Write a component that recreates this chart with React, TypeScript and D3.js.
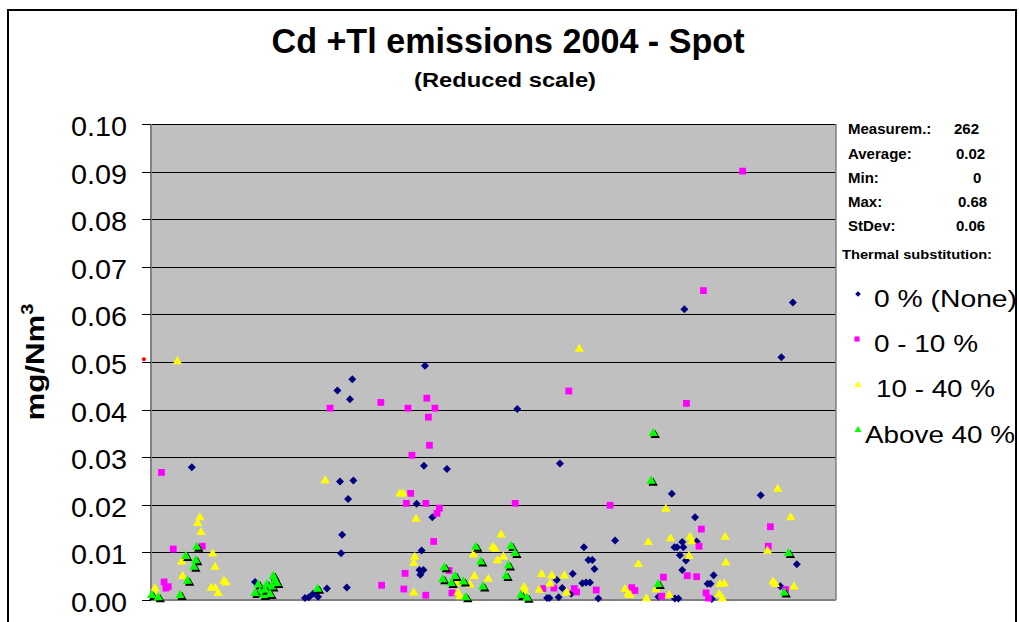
import React from 'react';
import * as d3 from 'd3';

// [measurement index, mg/Nm3]
const noneSubst: [number, number][] = [
  [15.6, 0.0279], [39.8, 0.0038], [58.9, 0.0004], [60.4, 0.0006], [62.0, 0.0013], [63.9, 0.0007],
  [67.3, 0.0024], [71.3, 0.044], [77.0, 0.0464], [76.1, 0.0422], [72.3, 0.0249], [77.4, 0.0251],
  [75.4, 0.0212], [73.1, 0.0137], [72.7, 0.0098], [74.9, 0.0026], [104.8, 0.0492], [104.4, 0.0282],
  [113.2, 0.0275], [101.6, 0.0202], [107.6, 0.0174], [103.5, 0.0104], [102.7, 0.0063], [104.2, 0.0063],
  [103.0, 0.0053], [140.1, 0.0401], [156.4, 0.0287], [177.5, 0.0125], [165.6, 0.0111], [167.3, 0.0084],
  [168.8, 0.0084], [169.6, 0.0065], [161.3, 0.0055], [155.2, 0.0042], [165.0, 0.0035], [166.4, 0.0037],
  [167.9, 0.0037], [157.3, 0.0025], [160.7, 0.0013], [151.5, 0.0004], [152.4, 0.0004], [155.9, 0.0006],
  [171.1, 0.0003], [204.0, 0.0611], [245.5, 0.0625], [241.1, 0.051], [199.2, 0.0223], [233.2, 0.022],
  [208.1, 0.0174], [203.2, 0.0122], [208.7, 0.0123], [200.2, 0.0111], [201.2, 0.0111], [203.6, 0.0111],
  [202.3, 0.0094], [204.6, 0.0083], [203.2, 0.0063], [215.2, 0.0052], [212.9, 0.0034], [214.0, 0.0034],
  [247.0, 0.0075], [240.7, 0.0029], [200.4, 0.0003], [201.7, 0.0003], [214.5, 0.0002], [194.1, 0.0007],
];

const lowSubst: [number, number][] = [
  [4.0, 0.0268], [8.5, 0.0107], [19.6, 0.0113], [5.0, 0.0038], [6.6, 0.0028], [5.7, 0.0025],
  [68.5, 0.0403], [87.9, 0.0415], [98.3, 0.0403], [105.5, 0.0424], [108.6, 0.0403], [106.1, 0.0384],
  [106.5, 0.0325], [99.8, 0.0304], [99.3, 0.0224], [97.7, 0.0203], [105.1, 0.0203], [110.3, 0.0193],
  [109.4, 0.0182], [108.1, 0.0123], [97.2, 0.0056], [88.2, 0.0031], [96.7, 0.0023], [105.1, 0.001],
  [114.0, 0.0062], [115.1, 0.0015], [159.8, 0.0439], [139.3, 0.0203], [175.6, 0.0199], [149.9, 0.0024],
  [154.1, 0.0025], [161.9, 0.0024], [162.8, 0.0017], [170.3, 0.0021], [183.9, 0.0026], [185.1, 0.002],
  [196.0, 0.0048], [195.3, 0.0008], [226.3, 0.0901], [211.3, 0.065], [204.8, 0.0413], [210.5, 0.0149],
  [236.9, 0.0154], [209.6, 0.0113], [236.1, 0.0113], [205.1, 0.0051], [208.7, 0.0049], [242.7, 0.0022],
  [212.3, 0.0015], [213.2, 0.0004],
];

const midSubst: [number, number][] = [
  [10.1, 0.0501], [18.7, 0.0173], [17.9, 0.0161], [19.1, 0.0142], [23.6, 0.0097], [11.7, 0.008],
  [24.5, 0.0069], [12.1, 0.005], [27.9, 0.004], [28.7, 0.0036], [1.5, 0.0024], [23.0, 0.0025],
  [24.5, 0.0025], [25.7, 0.0014], [1.9, 0.001], [66.6, 0.0251], [95.2, 0.0223], [96.4, 0.0223],
  [101.4, 0.017], [100.9, 0.009], [100.5, 0.0077], [100.5, 0.0015], [116.9, 0.0036], [122.0, 0.0032],
  [123.7, 0.005], [129.0, 0.0044], [130.7, 0.0111], [132.5, 0.0083], [123.3, 0.0095], [118.2, 0.0007],
  [117.4, 0.0015], [134.8, 0.0091], [133.9, 0.0137], [131.6, 0.0107], [142.7, 0.0027], [142.9, 0.0019],
  [163.8, 0.0527], [149.4, 0.0054], [153.3, 0.0051], [158.1, 0.0051], [152.6, 0.0034], [148.5, 0.0021],
  [159.0, 0.0015], [196.9, 0.0191], [190.2, 0.0121], [186.4, 0.0075], [181.3, 0.0023], [182.5, 0.0013],
  [189.5, 0.0003], [193.2, 0.0022], [198.2, 0.001], [198.7, 0.0129], [206.2, 0.0132], [206.8, 0.0123],
  [205.8, 0.0092], [219.6, 0.0132], [219.9, 0.0078], [217.6, 0.0033], [219.3, 0.0034], [217.3, 0.0012],
  [218.5, 0.0003], [239.7, 0.0233], [244.7, 0.0173], [235.8, 0.0103], [237.9, 0.0038], [238.8, 0.0033],
  [245.9, 0.0028], [183.2, 0.001],
];

const highSubst: [number, number][] = [
  [17.5, 0.0111], [13.3, 0.0092], [17.1, 0.0083], [16.4, 0.0069], [14.0, 0.004], [0.3, 0.001],
  [2.8, 0.0005], [11.1, 0.001], [46.8, 0.005], [47.4, 0.0042], [41.0, 0.0032], [44.3, 0.0032],
  [41.7, 0.0017], [44.9, 0.0014], [39.8, 0.0014], [46.2, 0.0028], [48.1, 0.0035], [43.0, 0.001],
  [43.6, 0.0021], [45.5, 0.0012], [63.7, 0.0023], [112.2, 0.0068], [111.6, 0.0043], [116.3, 0.005],
  [114.8, 0.0035], [119.5, 0.0038], [126.9, 0.0028], [120.4, 0.0005], [124.2, 0.0111], [126.1, 0.008],
  [137.7, 0.0113], [139.2, 0.0098], [136.7, 0.0072], [135.8, 0.005], [141.5, 0.001], [143.8, 0.0004],
  [192.1, 0.035], [191.3, 0.025], [194.0, 0.0033], [243.8, 0.0098], [242.2, 0.0015],
];

// the lone red dot sitting on the axis
const strayPoints: [number, number][] = [[-2.7, 0.0506]];

const seriesNames = ['0 % (None)', '0 - 10 %', '10 - 40 %', 'Above 40 %'];
const statLabels = ['Measurem.:', 'Average:', 'Min:', 'Max:', 'StDev:'];
const statValues = ['262', '0.02', '0', '0.68', '0.06'];
const yTickValues = [0, 0.01, 0.02, 0.03, 0.04, 0.05, 0.06, 0.07, 0.08, 0.09, 0.1];

const W = 1019;
const H = 622;
const plot = { left: 151, right: 836, top: 124, bottom: 600 };
const font = '"Liberation Sans", Arial, sans-serif';

const x = d3.scaleLinear().domain([0, 262]).range([plot.left, plot.right]);
const y = d3.scaleLinear().domain([0, 0.1]).range([plot.bottom, plot.top]);
const fmt = d3.format('.2f');

const squarePath = d3.symbol(d3.symbolSquare, 46)()!;
const diamondPath = d3.symbol(d3.symbolSquare, 32)()!;
const trianglePath = d3.symbol(d3.symbolTriangle, 38)()!;
const legendSquare = d3.symbol(d3.symbolSquare, 26)()!;
const legendDiamond = d3.symbol(d3.symbolSquare, 16)()!;
const legendTriangle = d3.symbol(d3.symbolTriangle, 20)()!;

const legendRows = [
  { mx: 858, my: 294, tx: 874, ty: 307, len: 143 },
  { mx: 857, my: 339, tx: 874, ty: 352, len: 104 },
  { mx: 858, my: 385, tx: 876, ty: 397, len: 119 },
  { mx: 858, my: 430, tx: 865, ty: 443, len: 150 },
];
const statRows = [
  { ty: 134, vx: 954 },
  { ty: 159, vx: 956 },
  { ty: 183, vx: 973 },
  { ty: 207, vx: 958 },
  { ty: 231, vx: 956 },
];

export default function App() {
  return (
    <svg width={W} height={H} style={{ position: 'absolute', left: 0, top: 0, background: '#fff' }}
      fontFamily={font}>
      <rect x={8} y={10} width={1008} height={660} fill="#fff" stroke="#000" strokeWidth={2} />

      <text x={508} y={53} textAnchor="middle" fontSize={35} fontWeight="bold"
        textLength={473} lengthAdjust="spacingAndGlyphs">Cd +Tl emissions 2004 - Spot</text>
      <text x={505} y={87} textAnchor="middle" fontSize={20} fontWeight="bold"
        textLength={182} lengthAdjust="spacingAndGlyphs">(Reduced scale)</text>

      {/* plot area */}
      <rect x={plot.left} y={plot.top} width={plot.right - plot.left} height={plot.bottom - plot.top}
        fill="#c0c0c0" />
      {yTickValues.filter(t => t > 0).map(t => (
        <line key={t} x1={plot.left} x2={plot.right} y1={Math.round(y(t)) + 0.5} y2={Math.round(y(t)) + 0.5}
          stroke="#000" strokeWidth={1} />
      ))}
      <line x1={plot.right} x2={plot.right} y1={plot.top} y2={plot.bottom} stroke="#808080" strokeWidth={1.5} />
      <line x1={plot.left} x2={plot.right} y1={plot.bottom} y2={plot.bottom} stroke="#808080" strokeWidth={2} />
      <line x1={plot.left} x2={plot.left} y1={plot.top} y2={plot.bottom} stroke="#808080" strokeWidth={2} />

      {/* y axis */}
      {yTickValues.map(t => (
        <g key={t}>
          <line x1={142} x2={plot.left} y1={Math.round(y(t)) + 0.5} y2={Math.round(y(t)) + 0.5}
            stroke="#000" strokeWidth={1} />
          <text x={127} y={y(t) + 12} textAnchor="end" fontSize={27}
            textLength={56} lengthAdjust="spacingAndGlyphs">{fmt(t)}</text>
        </g>
      ))}
      <text transform="translate(44,362) rotate(-90) scale(1.25,1)" textAnchor="middle"
        fontSize={25} fontWeight="bold">mg/Nm<tspan dy={-11} fontSize={16}>3</tspan></text>

      {/* series */}
      {noneSubst.map((d, i) => (
        <path key={'n' + i} d={diamondPath} fill="#000080"
          transform={`translate(${x(d[0])},${y(d[1])}) rotate(45)`} />
      ))}
      {lowSubst.map((d, i) => (
        <path key={'l' + i} d={squarePath} fill="#ff00ff"
          transform={`translate(${x(d[0])},${y(d[1])})`} />
      ))}
      {midSubst.map((d, i) => (
        <path key={'m' + i} d={trianglePath} fill="#ffff00"
          transform={`translate(${x(d[0])},${y(d[1])})`} />
      ))}
      {highSubst.map((d, i) => (
        <g key={'h' + i} transform={`translate(${x(d[0])},${y(d[1])})`}>
          <path d={trianglePath} fill="#000" transform="translate(2,2)" />
          <path d={trianglePath} fill="#00ff00" />
        </g>
      ))}
      {strayPoints.map((d, i) => (
        <circle key={'s' + i} cx={x(d[0])} cy={y(d[1])} r={2} fill="#ff0000" />
      ))}

      {/* stats */}
      {statLabels.map((s, i) => (
        <g key={s} fontSize={15} fontWeight="bold">
          <text x={848} y={statRows[i].ty}>{s}</text>
          <text x={statRows[i].vx} y={statRows[i].ty}>{statValues[i]}</text>
        </g>
      ))}
      <text x={842} y={259} fontSize={13.5} fontWeight="bold"
        textLength={150} lengthAdjust="spacingAndGlyphs">Thermal substitution:</text>

      {/* legend */}
      {seriesNames.map((name, i) => {
        const r = legendRows[i];
        let marker;
        if (i === 0) marker = <path d={legendDiamond} fill="#000080" transform={`translate(${r.mx},${r.my}) rotate(45)`} />;
        else if (i === 1) marker = <path d={legendSquare} fill="#ff00ff" transform={`translate(${r.mx},${r.my})`} />;
        else if (i === 2) marker = <path d={legendTriangle} fill="#ffff00" transform={`translate(${r.mx},${r.my})`} />;
        else marker = <path d={legendTriangle} fill="#00ff00" transform={`translate(${r.mx},${r.my})`} />;
        return (
          <g key={name}>
            {marker}
            <text x={r.tx} y={r.ty} fontSize={24} textLength={r.len} lengthAdjust="spacingAndGlyphs">{name}</text>
          </g>
        );
      })}
    </svg>
  );
}
